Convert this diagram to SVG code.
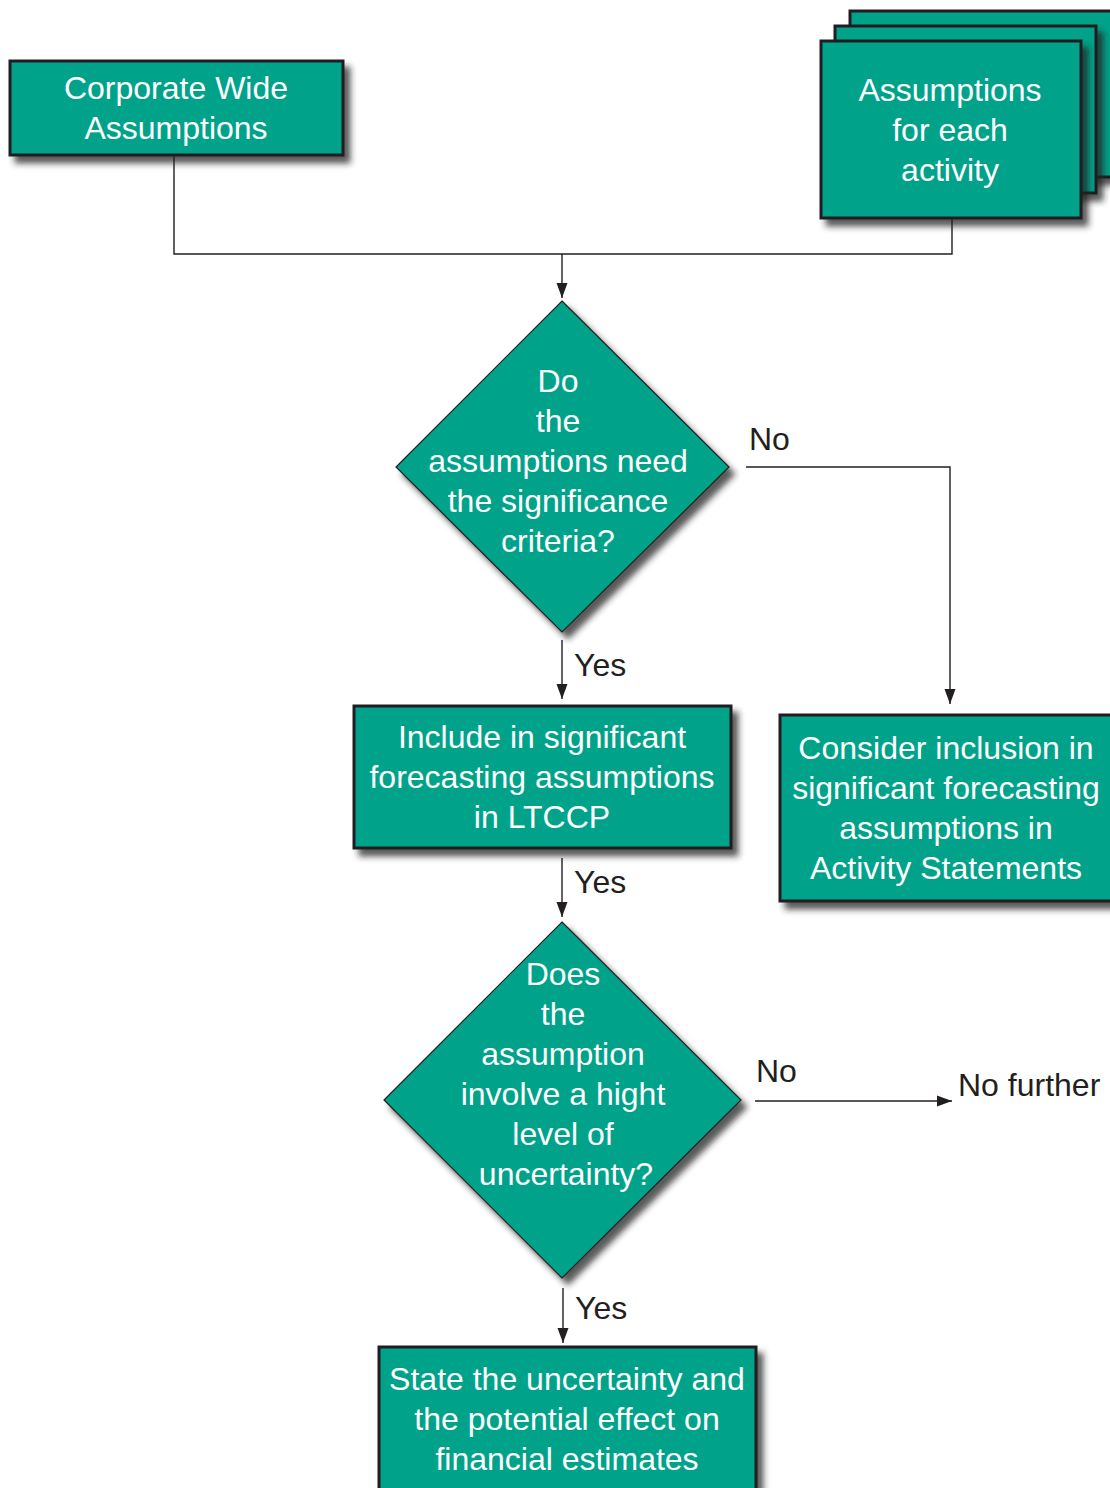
<svg xmlns="http://www.w3.org/2000/svg" width="1110" height="1488" viewBox="0 0 1110 1488">
<style>
.node{fill:#00a38a;stroke:#231f20;stroke-width:3;filter:url(#sh)}
.dia{fill:#00a38a;stroke:#231f20;stroke-width:1.2;filter:url(#sh)}
.nt{font-family:"Liberation Sans",Arial,sans-serif;font-size:32px;fill:#ffffff;text-anchor:middle}
.lb{font-family:"Liberation Sans",Arial,sans-serif;font-size:32px;fill:#231f20}
.cn{fill:none;stroke:#231f20;stroke-width:1.4}
</style>
<defs>
<filter id="sh" x="-20%" y="-20%" width="150%" height="150%">
<feDropShadow dx="6" dy="7" stdDeviation="3" flood-color="#222" flood-opacity="0.75"/>
</filter>
<marker id="av" markerUnits="userSpaceOnUse" markerWidth="16" markerHeight="12" refX="15" refY="6" orient="auto" viewBox="0 0 16 12">
<path d="M0,0.5 L15,6 L0,11.5 z" fill="#231f20"/>
</marker>
</defs>
<rect width="1110" height="1488" fill="#ffffff"/>

<g id="connectors">
<polyline class="cn" points="174,156 174,254 952,254 952,219"/>
<line class="cn" x1="562" y1="254" x2="562" y2="298" marker-end="url(#av)"/>
<line class="cn" x1="562" y1="640" x2="562" y2="699" marker-end="url(#av)"/>
<polyline class="cn" points="746,467 950,467 950,704" marker-end="url(#av)"/>
<line class="cn" x1="562" y1="858" x2="562" y2="917" marker-end="url(#av)"/>
<line class="cn" x1="755" y1="1101" x2="952" y2="1101" marker-end="url(#av)"/>
<line class="cn" x1="563" y1="1288" x2="563" y2="1343" marker-end="url(#av)"/>
<text class="lb" x="749" y="450">No</text>
<text class="lb" x="574" y="676">Yes</text>
<text class="lb" x="574" y="893">Yes</text>
<text class="lb" x="756" y="1082">No</text>
<text class="lb" x="575" y="1319">Yes</text>
</g>

<g id="corporate">
<rect class="node" x="10" y="61" width="333" height="94"/>
<text class="nt" x="176" y="99">Corporate Wide</text>
<text class="nt" x="176" y="139">Assumptions</text>
</g>

<g id="activity">
<rect class="node" x="850" y="11" width="270" height="166"/>
<rect class="node" x="835" y="26" width="261" height="167"/>
<rect class="node" x="821" y="41" width="260" height="177"/>
<text class="nt" x="950" y="101">Assumptions</text>
<text class="nt" x="950" y="141">for each</text>
<text class="nt" x="950" y="181">activity</text>
</g>

<g id="decision1">
<polygon class="dia" points="562,301 729,467 562,632 396,467"/>
<text class="nt" x="558" y="392">Do</text>
<text class="nt" x="558" y="432">the</text>
<text class="nt" x="558" y="472">assumptions need</text>
<text class="nt" x="558" y="512">the significance</text>
<text class="nt" x="558" y="552">criteria?</text>
</g>

<g id="include">
<rect class="node" x="354" y="706" width="377" height="142"/>
<text class="nt" x="542" y="748">Include in significant</text>
<text class="nt" x="542" y="788">forecasting assumptions</text>
<text class="nt" x="542" y="828">in LTCCP</text>
</g>

<g id="consider">
<rect class="node" x="780" y="715" width="334" height="186"/>
<text class="nt" x="946" y="759">Consider inclusion in</text>
<text class="nt" x="946" y="799">significant forecasting</text>
<text class="nt" x="946" y="839">assumptions in</text>
<text class="nt" x="946" y="879">Activity Statements</text>
</g>

<g id="decision2">
<polygon class="dia" points="562,922 741,1100 562,1278 384,1100"/>
<text class="nt" x="563" y="985">Does</text>
<text class="nt" x="563" y="1025">the</text>
<text class="nt" x="563" y="1065">assumption</text>
<text class="nt" x="563" y="1105">involve a hight</text>
<text class="nt" x="563" y="1145">level of</text>
<text class="nt" x="566" y="1185">uncertainty?</text>
</g>

<g id="nofurther">
<text class="lb" x="958" y="1096">No further</text>
</g>

<g id="state">
<rect class="node" x="379" y="1347" width="377" height="160"/>
<text class="nt" x="567" y="1390">State the uncertainty and</text>
<text class="nt" x="567" y="1430">the potential effect on</text>
<text class="nt" x="567" y="1470">financial estimates</text>
</g>
</svg>
